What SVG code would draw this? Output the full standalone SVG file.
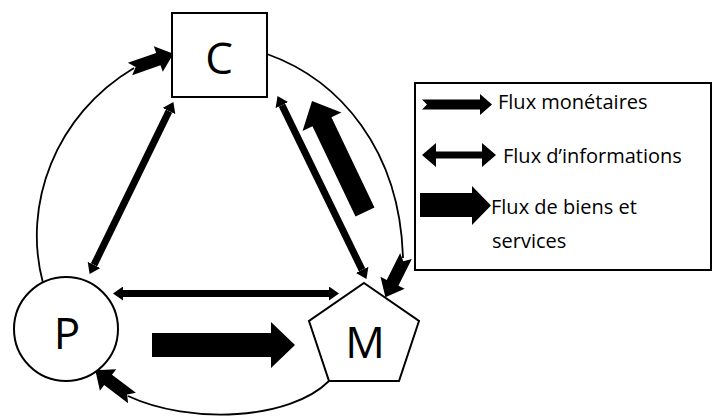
<svg xmlns="http://www.w3.org/2000/svg" width="717" height="417" viewBox="0 0 717 417">
  <style>
    .shape { fill: #ffffff; stroke: #000000; stroke-width: 2; }
    .arc { fill: none; stroke: #000000; stroke-width: 1.8; }
    .info { stroke: #000000; stroke-width: 7; fill: none; }
    .solid { fill: #000000; stroke: none; }
    .node { font-family: "Open Sans", "Liberation Sans", sans-serif; font-size: 44px; fill: #000000; text-anchor: middle; }
    .leg { font-family: "Open Sans", "Liberation Sans", sans-serif; font-size: 20px; fill: #000000; }
  </style>
  <defs>
    <marker id="ah" viewBox="0 -7 10 14" markerWidth="10" markerHeight="14" refX="0" refY="0" orient="auto-start-reverse" markerUnits="userSpaceOnUse">
      <path d="M0,-7 L10,0 L0,7 Z" fill="#000000"/>
    </marker>
    <path id="notch" d="M0,-6.5 H30 V-13.5 L46,0 L30,13.5 V6.5 H0 L6,0 Z"/>
  </defs>

  <g id="connectors">
    <!-- outer arcs -->
    <path class="arc" d="M43,283 C22,205 55,115 134,68"/>
    <path class="arc" d="M267,54 C340,80 400,150 403,258"/>
    <path class="arc" d="M329,381 C290,420 190,425 128,396"/>
    <!-- notched arrows at arc ends -->
    <use href="#notch" class="solid" transform="translate(130,69) rotate(-19.3)"/>
    <use href="#notch" class="solid" transform="translate(406,256) rotate(116.6)"/>
    <use href="#notch" class="solid" transform="translate(132,398) rotate(217.1)"/>
    <!-- information flows (double arrows) -->
    <line class="info" x1="169" y1="111.1" x2="94" y2="264.9" marker-start="url(#ah)" marker-end="url(#ah)"/>
    <line class="info" x1="281.9" y1="105.1" x2="362.1" y2="269.9" marker-start="url(#ah)" marker-end="url(#ah)"/>
    <line class="info" x1="123" y1="293.5" x2="329" y2="293.5" stroke-width="8" marker-start="url(#ah)" marker-end="url(#ah)"/>
    <!-- goods and services flows (big arrows) -->
    <polygon class="solid" points="152,333 271,333 271,322 295,345 271,368 271,357 152,357"/>
    <polygon class="solid" points="0,-10.5 100,-10.5 100,-21.5 123,0 100,21.5 100,10.5 0,10.5" transform="translate(365,212) rotate(-115.5)"/>
  </g>

  <g id="node-C">
    <rect class="shape" x="172" y="13" width="95" height="84"/>
    <text class="node" x="219" y="74">C</text>
  </g>

  <g id="node-P">
    <circle class="shape" cx="66" cy="329" r="52"/>
    <text class="node" x="67" y="349">P</text>
  </g>

  <g id="node-M">
    <polygon class="shape" points="364,283 419,321 399,381 329,381 309,321"/>
    <text class="node" x="365" y="358">M</text>
  </g>

  <g id="legend">
    <rect class="shape" x="415" y="83" width="296" height="187"/>
    <polygon class="solid" points="422,99.5 480,99.5 480,94 492,104.5 480,115 480,109.5 422,109.5 427,104.5"/>
    <text class="leg" x="498" y="109">Flux monétaires</text>
    <polygon class="solid" points="422,155 436,143 436,151.5 482,151.5 482,143 496,155 482,167 482,158.5 436,158.5 436,167"/>
    <text class="leg" x="503" y="163">Flux d’informations</text>
    <polygon class="solid" points="420,193 472,193 472,186 491,205.5 472,225 472,217 420,217"/>
    <text class="leg" x="491" y="214">Flux de biens et</text>
    <text class="leg" x="492" y="248">services</text>
  </g>
</svg>
